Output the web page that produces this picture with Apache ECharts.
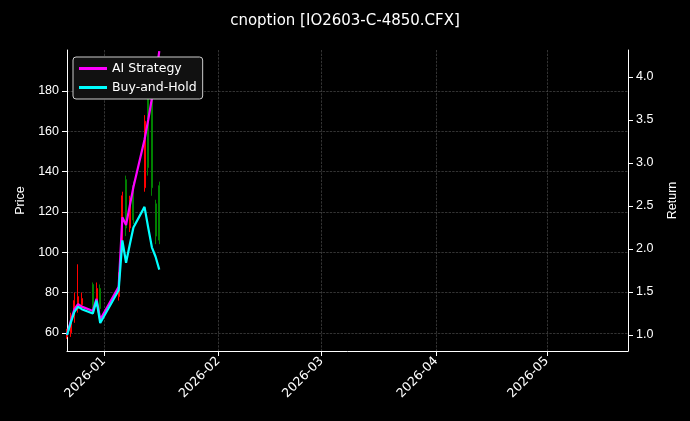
<!DOCTYPE html>
<html><head><meta charset="utf-8">
<script src="https://cdn.jsdelivr.net/npm/echarts@6/dist/echarts.min.js"></script>
<style>html,body{margin:0;background:#000}#c{width:690px;height:421px}</style>
</head><body><div id="c"></div>
<script>
const dates=['2025-12-22','2025-12-23','2025-12-24','2025-12-25','2025-12-26','2025-12-29','2025-12-30','2025-12-31','2026-01-05','2026-01-06','2026-01-07','2026-01-08','2026-01-09','2026-01-12','2026-01-13','2026-01-14','2026-01-15','2026-01-16'];
// open, close, low, high
const ohlc=[[58,60,57,62],[60,66,58,70],[68,76,65,80],[72,78,70,94],[74,77,72,80],[84,72,70,85],[75,82,73,85],[82,72,70,84],[78,88,76,90],[102,128,100,130],[136,112,108,138],[112,126,110,128],[133,116,114,135],[132,165,130,168],[178,142,138,182],[188,132,128,192],[124,108,104,126],[133,106,104,135]];
const aiStrategy=[1.0,1.16,1.30,1.36,1.33,1.28,1.42,1.18,1.56,2.37,2.28,2.50,2.72,3.27,3.50,3.75,3.97,4.30];
const buyHold=[1.0,1.14,1.27,1.33,1.30,1.25,1.40,1.14,1.52,2.10,1.84,2.05,2.25,2.49,2.25,2.02,1.91,1.76];
const priceTicks=[60,80,100,120,140,160,180];
const returnTicks=[1.0,1.5,2.0,2.5,3.0,3.5,4.0];
const t=dates.map(d=>new Date(d+'T00:00:00').getTime());
const c=echarts.init(document.getElementById('c'));
const gl={show:true,lineStyle:{color:'#555',type:'dashed',width:0.6}};
c.setOption({
backgroundColor:'#000',animation:false,
title:{text:'cnoption [IO2603-C-4850.CFX]',left:'center',top:9,textStyle:{color:'#fff',fontSize:15,fontWeight:'normal',fontFamily:'DejaVu Sans'}},
legend:{left:73,top:57,orient:'vertical',itemGap:6,backgroundColor:'#111',borderColor:'#ccc',borderWidth:1,borderRadius:3,padding:[5,6],
 textStyle:{color:'#fff',fontSize:12.5,fontFamily:'DejaVu Sans'},icon:'rect',itemWidth:28,itemHeight:3,data:['AI Strategy','Buy-and-Hold']},
grid:{left:67,right:62,top:50,bottom:70},
xAxis:{type:'time',min:new Date('2025-12-22T00:00:00').getTime(),max:new Date('2026-05-23T00:00:00').getTime(),
 splitNumber:5,axisLine:{lineStyle:{color:'#fff'}},axisTick:{lineStyle:{color:'#fff'}},splitLine:gl,
 axisLabel:{color:'#fff',rotate:45,fontSize:12.5,fontFamily:'DejaVu Sans',formatter:v=>{const d=new Date(v);return d.getDate()===1?d.getFullYear()+'-'+String(d.getMonth()+1).padStart(2,'0'):'';}}},
yAxis:[{type:'value',name:'Price',nameLocation:'middle',nameGap:40,nameTextStyle:{color:'#fff',fontSize:12.5},min:51,max:200.3,
 axisLine:{show:true,lineStyle:{color:'#fff'}},axisTick:{show:true,customValues:priceTicks},splitLine:gl,
 axisLabel:{color:'#fff',fontSize:12.5,customValues:priceTicks}},
 {type:'value',name:'Return',nameLocation:'middle',nameGap:38,nameTextStyle:{color:'#fff',fontSize:12.5},min:0.814,max:4.314,
 axisLine:{show:true,lineStyle:{color:'#fff'}},axisTick:{show:true,customValues:returnTicks},splitLine:{show:false},
 axisLabel:{color:'#fff',fontSize:12.5,customValues:returnTicks,formatter:v=>v.toFixed(1)}}],
series:[
{type:'candlestick',name:'Price',data:t.map((x,i)=>[x,...ohlc[i]]),barWidth:1.5,
 itemStyle:{color:'#ff0000',color0:'#008000',borderColor:'#ff0000',borderColor0:'#008000'}},
{type:'line',name:'AI Strategy',yAxisIndex:1,data:t.map((x,i)=>[x,aiStrategy[i]]),showSymbol:false,lineStyle:{color:'#ff00ff',width:2.2},itemStyle:{color:'#ff00ff'}},
{type:'line',name:'Buy-and-Hold',yAxisIndex:1,data:t.map((x,i)=>[x,buyHold[i]]),showSymbol:false,lineStyle:{color:'#00ffff',width:2.2},itemStyle:{color:'#00ffff'}}
]});
</script></body></html>
